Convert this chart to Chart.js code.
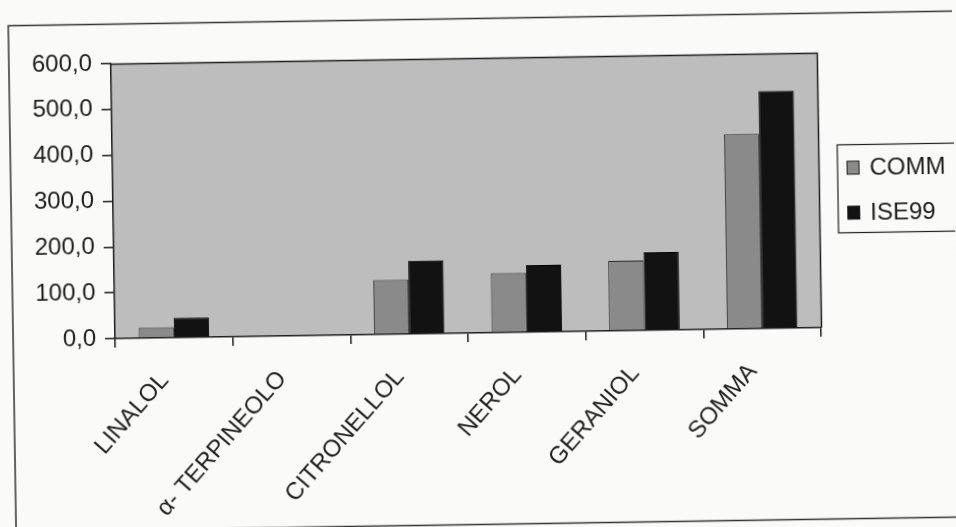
<!DOCTYPE html>
<html>
<head>
<meta charset="utf-8">
<script src="https://cdn.jsdelivr.net/npm/chart.js@4.4.1/dist/chart.umd.min.js"></script>
<style>
  html, body { margin: 0; padding: 0; background: #fafaf9; overflow: hidden; }
  #wrap { position: absolute; left: 0; top: 0; width: 956px; height: 527px;
          transform: rotate(-0.89deg); transform-origin: 478px 263px; }
</style>
</head>
<body>
<div id="wrap"><canvas id="c"></canvas></div>
<script>
const categories = ['LINALOL', 'α- TERPINEOLO', 'CITRONELLOL', 'NEROL', 'GERANIOL', 'SOMMA'];
const seriesNames = ['COMM', 'ISE99'];
const commValues = [23, 0, 119, 130, 153, 425];
const ise99Values = [43, 0, 160, 146, 170, 518];
const yTicks = [0, 100, 200, 300, 400, 500, 600];

const FONT = '"Liberation Sans", Arial, sans-serif';
const INK = '#1e1e1e';

// Grey plot background, frame lines, outer border and boxed legend
const decor = {
  id: 'decor',
  beforeDraw(chart) {
    const { ctx, chartArea: a, width, height } = chart;
    ctx.save();
    ctx.fillStyle = '#fafaf9';
    ctx.fillRect(0, 0, width, height);
    ctx.fillStyle = '#bdbdbd';
    ctx.fillRect(a.left, a.top, a.right - a.left, a.bottom - a.top);
    ctx.restore();
  },
  afterDraw(chart) {
    const { ctx, chartArea: a } = chart;
    ctx.save();
    ctx.strokeStyle = INK;
    ctx.lineWidth = 1.5;
    ctx.beginPath();
    ctx.moveTo(a.left, a.top + 0.5);
    ctx.lineTo(a.right + 0.5, a.top + 0.5);
    ctx.lineTo(a.right + 0.5, a.bottom);
    ctx.stroke();

    // outer chart border
    ctx.lineWidth = 1.5;
    ctx.strokeStyle = '#333';
    ctx.strokeRect(12, 18.5, 980, 506);

    // legend
    const lx = 839, ly = 150.5, lw = 140, lh = 88;
    ctx.lineWidth = 1.2;
    ctx.strokeStyle = INK;
    ctx.strokeRect(lx, ly, lw, lh);
    ctx.font = '24px ' + FONT;
    ctx.textBaseline = 'middle';
    ctx.textAlign = 'left';
    const rows = [173.5, 218.5];
    chart.data.datasets.forEach((ds, i) => {
      const cy = rows[i];
      ctx.fillStyle = ds.backgroundColor;
      ctx.fillRect(848.5, cy - 6.5, 12, 13);
      ctx.strokeStyle = INK;
      ctx.lineWidth = 1;
      ctx.strokeRect(848.5, cy - 6.5, 12, 13);
      ctx.fillStyle = INK;
      ctx.fillText(ds.label, 871, cy + 1);
    });
    ctx.restore();
  }
};

new Chart(document.getElementById('c'), {
  type: 'bar',
  data: {
    labels: categories,
    datasets: [
      { label: seriesNames[0], data: commValues, backgroundColor: '#8a8a8a',
        borderColor: '#2a2a2a', borderWidth: 1 },
      { label: seriesNames[1], data: ise99Values, backgroundColor: '#121212',
        borderColor: '#000', borderWidth: 1 }
    ]
  },
  options: {
    responsive: true,
    maintainAspectRatio: false,
    animation: false,
    layout: { padding: { left: 0, top: 58, right: 136, bottom: 0 } },
    plugins: { legend: { display: false }, tooltip: { enabled: false } },
    datasets: { bar: { categoryPercentage: 0.6, barPercentage: 1.0 } },
    scales: {
      x: {
        afterFit(s) { s.height = 194; },
        border: { display: true, color: INK, width: 1.5 },
        grid: { offset: true, drawOnChartArea: false, drawTicks: true, tickLength: 9,
                color: INK, tickColor: INK, lineWidth: 1.5 },
        ticks: { color: INK, font: { family: FONT, size: 24 }, minRotation: 48, maxRotation: 48,
                 autoSkip: false, padding: 20, labelOffset: -10 }
      },
      y: {
        min: 0, max: 600,
        afterFit(s) { s.width = 114; },
        afterBuildTicks(s) { s.ticks = yTicks.map(v => ({ value: v })); },
        border: { display: true, color: INK, width: 1.5 },
        grid: { drawOnChartArea: false, drawTicks: true, tickLength: 10,
                color: INK, tickColor: INK, lineWidth: 1.5 },
        ticks: { color: INK, font: { family: FONT, size: 24 }, padding: 9,
                 callback: v => v.toFixed(1).replace('.', ',') }
      }
    }
  },
  plugins: [decor]
});
</script>
</body>
</html>
